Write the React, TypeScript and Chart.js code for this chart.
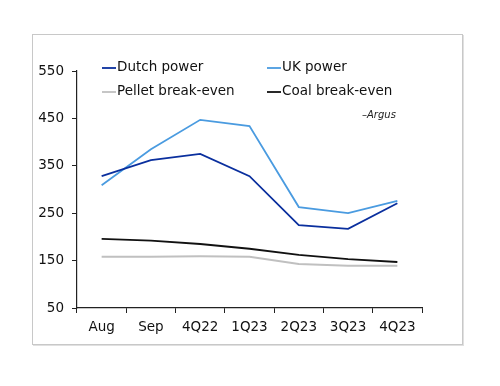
import React, { useEffect, useRef } from "react";
import { Chart, registerables } from "chart.js";

Chart.register(...registerables);

const categories = ["Aug", "Sep", "4Q22", "1Q23", "2Q23", "3Q23", "4Q23"];
const dutchPower = [328, 362, 375, 328, 225, 217, 271];
const ukPower = [309, 385, 447, 434, 263, 250, 276];
const pelletBreakEven = [158, 158, 159, 158, 143, 139, 139];
const coalBreakEven = [196, 192, 185, 175, 162, 153, 147];
const yTicks = [50, 150, 250, 350, 450, 550];
const sourceLabel = "\u2013Argus";

const FONT = "'DejaVu Sans', Verdana, sans-serif";

const legendPlugin = {
  id: "customLegend",
  afterDraw(chart: any) {
    const ctx = chart.ctx;
    const ds = chart.data.datasets;
    const positions = [
      [102, 67],
      [267, 67],
      [102, 91],
      [267, 91],
    ];
    ctx.save();
    ctx.font = `13.5px ${FONT}`;
    ctx.textBaseline = "middle";
    ctx.textAlign = "left";
    ds.forEach((d: any, i: number) => {
      const [x, y] = positions[i];
      ctx.strokeStyle = d.borderColor;
      ctx.lineWidth = 1.8;
      ctx.beginPath();
      ctx.moveTo(x, y + 1);
      ctx.lineTo(x + 14, y + 1);
      ctx.stroke();
      ctx.fillStyle = "#111";
      ctx.fillText(d.label, x + 15, y);
    });
    ctx.font = `italic 10px ${FONT}`;
    ctx.fillStyle = "#222";
    ctx.fillText(sourceLabel, 362, 115);
    ctx.restore();
  },
};

export default function App() {
  const ref = useRef<HTMLCanvasElement>(null);
  useEffect(() => {
    if (!ref.current) return;
    const chart = new Chart(ref.current, {
      type: "line",
      data: {
        labels: categories,
        datasets: [
          { label: "Dutch power", data: dutchPower, borderColor: "#0a2f9e", borderWidth: 1.8 },
          { label: "UK power", data: ukPower, borderColor: "#4a9be0", borderWidth: 1.8 },
          { label: "Pellet break-even", data: pelletBreakEven, borderColor: "#c0c0c0", borderWidth: 2 },
          { label: "Coal break-even", data: coalBreakEven, borderColor: "#111111", borderWidth: 1.8 },
        ],
      },
      options: {
        animation: false,
        responsive: false,
        maintainAspectRatio: false,
        layout: { padding: { left: 0, top: 71, right: 78, bottom: 47 } },
        elements: { point: { radius: 0 }, line: { tension: 0 } },
        plugins: { legend: { display: false }, tooltip: { enabled: false } },
        scales: {
          x: {
            offset: true,
            grid: {
              offset: true,
              drawOnChartArea: false,
              drawTicks: true,
              tickLength: 5,
              color: "#222",
              lineWidth: 1,
            },
            border: { color: "#222", width: 1.2 },
            ticks: { color: "#111", font: { family: FONT, size: 13.5 }, padding: 6, maxRotation: 0, autoSkip: false },
            afterFit(scale: any) {
              scale.height = 31;
            },
          },
          y: {
            min: 50,
            max: 550,
            afterBuildTicks(scale: any) {
              scale.ticks = yTicks.map((v) => ({ value: v }));
            },
            grid: {
              drawOnChartArea: false,
              drawTicks: true,
              tickLength: 5,
              color: "#222",
              lineWidth: 1,
            },
            border: { color: "#222", width: 1.2 },
            ticks: { color: "#111", font: { family: FONT, size: 13.5 }, padding: 8 },
            afterFit(scale: any) {
              scale.width = 77;
            },
          },
        },
      },
      plugins: [legendPlugin],
    });
    return () => chart.destroy();
  }, []);
  return (
    <div style={{ position: "absolute", left: 0, top: 0, width: 500, height: 386, background: "#fff" }}>
      <div
        style={{
          position: "absolute",
          left: 32,
          top: 34,
          width: 429,
          height: 309,
          border: "1px solid #c8c8c8",
          boxShadow: "1px 1px 0 #e0e0e0",
        }}
      />
      <canvas ref={ref} width={500} height={386} style={{ position: "absolute", left: 0, top: 0 }} />
    </div>
  );
}
